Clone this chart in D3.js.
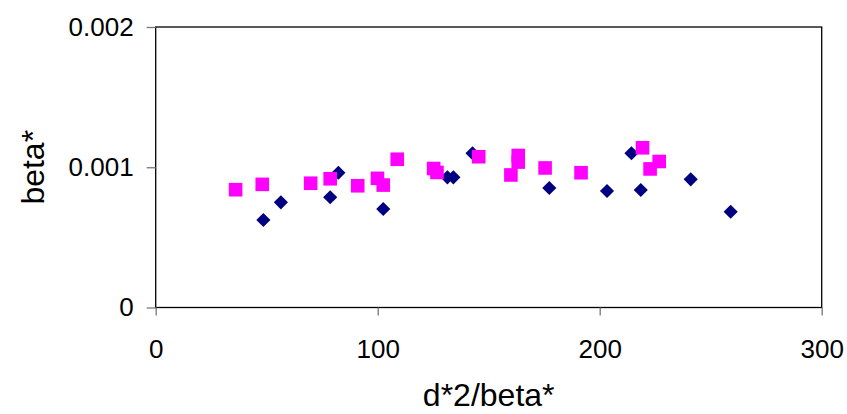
<!DOCTYPE html>
<html>
<head>
<meta charset="utf-8">
<script src="https://cdn.jsdelivr.net/npm/d3@7"></script>
<style>
  body { margin: 0; background: #fff; }
  text { font-family: "Liberation Sans", Arial, sans-serif; }
</style>
</head>
<body>
<script>
// series 1 (navy diamonds)
var navyX = [48.5, 56.4, 78.6, 82.3, 102.5, 131.4, 134.1, 142.7, 177.3, 203.3, 214.3, 218.5, 241.0, 259.0];
var navyY = [0.000624, 0.000750, 0.000786, 0.000961, 0.000702, 0.000928, 0.000928, 0.001100, 0.000852, 0.000831, 0.001100, 0.000838, 0.000914, 0.000683];

// series 2 (magenta squares)
var pinkX = [36.0, 48.0, 69.8, 78.6, 91.0, 99.9, 102.5, 108.8, 125.2, 126.7, 145.5, 160.0, 163.3, 163.3, 175.4, 191.6, 219.3, 222.7, 226.8];
var pinkY = [0.000840, 0.000878, 0.000886, 0.000918, 0.000868, 0.000921, 0.000873, 0.001057, 0.000991, 0.000963, 0.001075, 0.000945, 0.001084, 0.001037, 0.000995, 0.000961, 0.001139, 0.000988, 0.001041];

var xTicks = [0, 100, 200, 300];
var yTicks = [0, 0.001, 0.002];

var width = 847;
var height = 414;
// plot area edges
var plotL = 155.7, plotR = 821.7, plotT = 27, plotB = 307.5;

var svg = d3.select("body").append("svg")
    .attr("width", width)
    .attr("height", height);

var x = d3.scaleLinear().domain([0, 300]).range([plotL, plotR]);
var y = d3.scaleLinear().domain([0, 0.002]).range([plotB, plotT]);

// plot frame
svg.append("rect")
    .attr("x", plotL)
    .attr("y", plotT)
    .attr("width", plotR - plotL)
    .attr("height", plotB - plotT)
    .attr("fill", "none")
    .attr("stroke", "#000")
    .attr("stroke-width", 1.3);

// axes
svg.append("g")
    .attr("transform", "translate(0," + plotB + ")")
    .call(d3.axisBottom(x).tickValues(xTicks).tickSize(8).tickPadding(24).tickFormat(d3.format("d")));

svg.append("g")
    .attr("transform", "translate(" + plotL + ",0)")
    .call(d3.axisLeft(y).tickValues(yTicks).tickSize(9).tickPadding(13).tickFormat(function(d) {
        return d === 0 ? "0" : d3.format(".3f")(d);
    }));

svg.selectAll(".domain").remove();
svg.selectAll(".tick line").attr("stroke", "#777").attr("stroke-width", 1.3);
svg.selectAll(".tick text")
    .attr("fill", "#000")
    .attr("font-size", "26px")
    .attr("font-family", "Liberation Sans, Arial, sans-serif");

// navy diamonds
svg.selectAll("path.navy")
    .data(navyX)
    .enter()
    .append("path")
    .attr("class", "navy")
    .attr("d", d3.symbol().type(d3.symbolSquare).size(100))
    .attr("transform", function(d, i) {
        return "translate(" + x(d) + "," + y(navyY[i]) + ") rotate(45)";
    })
    .attr("fill", "#000080");

// magenta squares
svg.selectAll("rect.pink")
    .data(pinkX)
    .enter()
    .append("rect")
    .attr("class", "pink")
    .attr("x", function(d) { return x(d) - 6.8; })
    .attr("y", function(d, i) { return y(pinkY[i]) - 6.8; })
    .attr("width", 13.6)
    .attr("height", 13.6)
    .attr("fill", "#ff00ff");

// axis titles
svg.append("text")
    .text("d*2/beta*")
    .attr("x", (plotL + plotR) / 2)
    .attr("y", 406)
    .attr("text-anchor", "middle")
    .attr("font-size", "32px");

svg.append("text")
    .text("beta*")
    .attr("transform", "translate(44," + (plotT + plotB) / 2 + ") rotate(-90)")
    .attr("text-anchor", "middle")
    .attr("font-size", "32px");
</script>
</body>
</html>
